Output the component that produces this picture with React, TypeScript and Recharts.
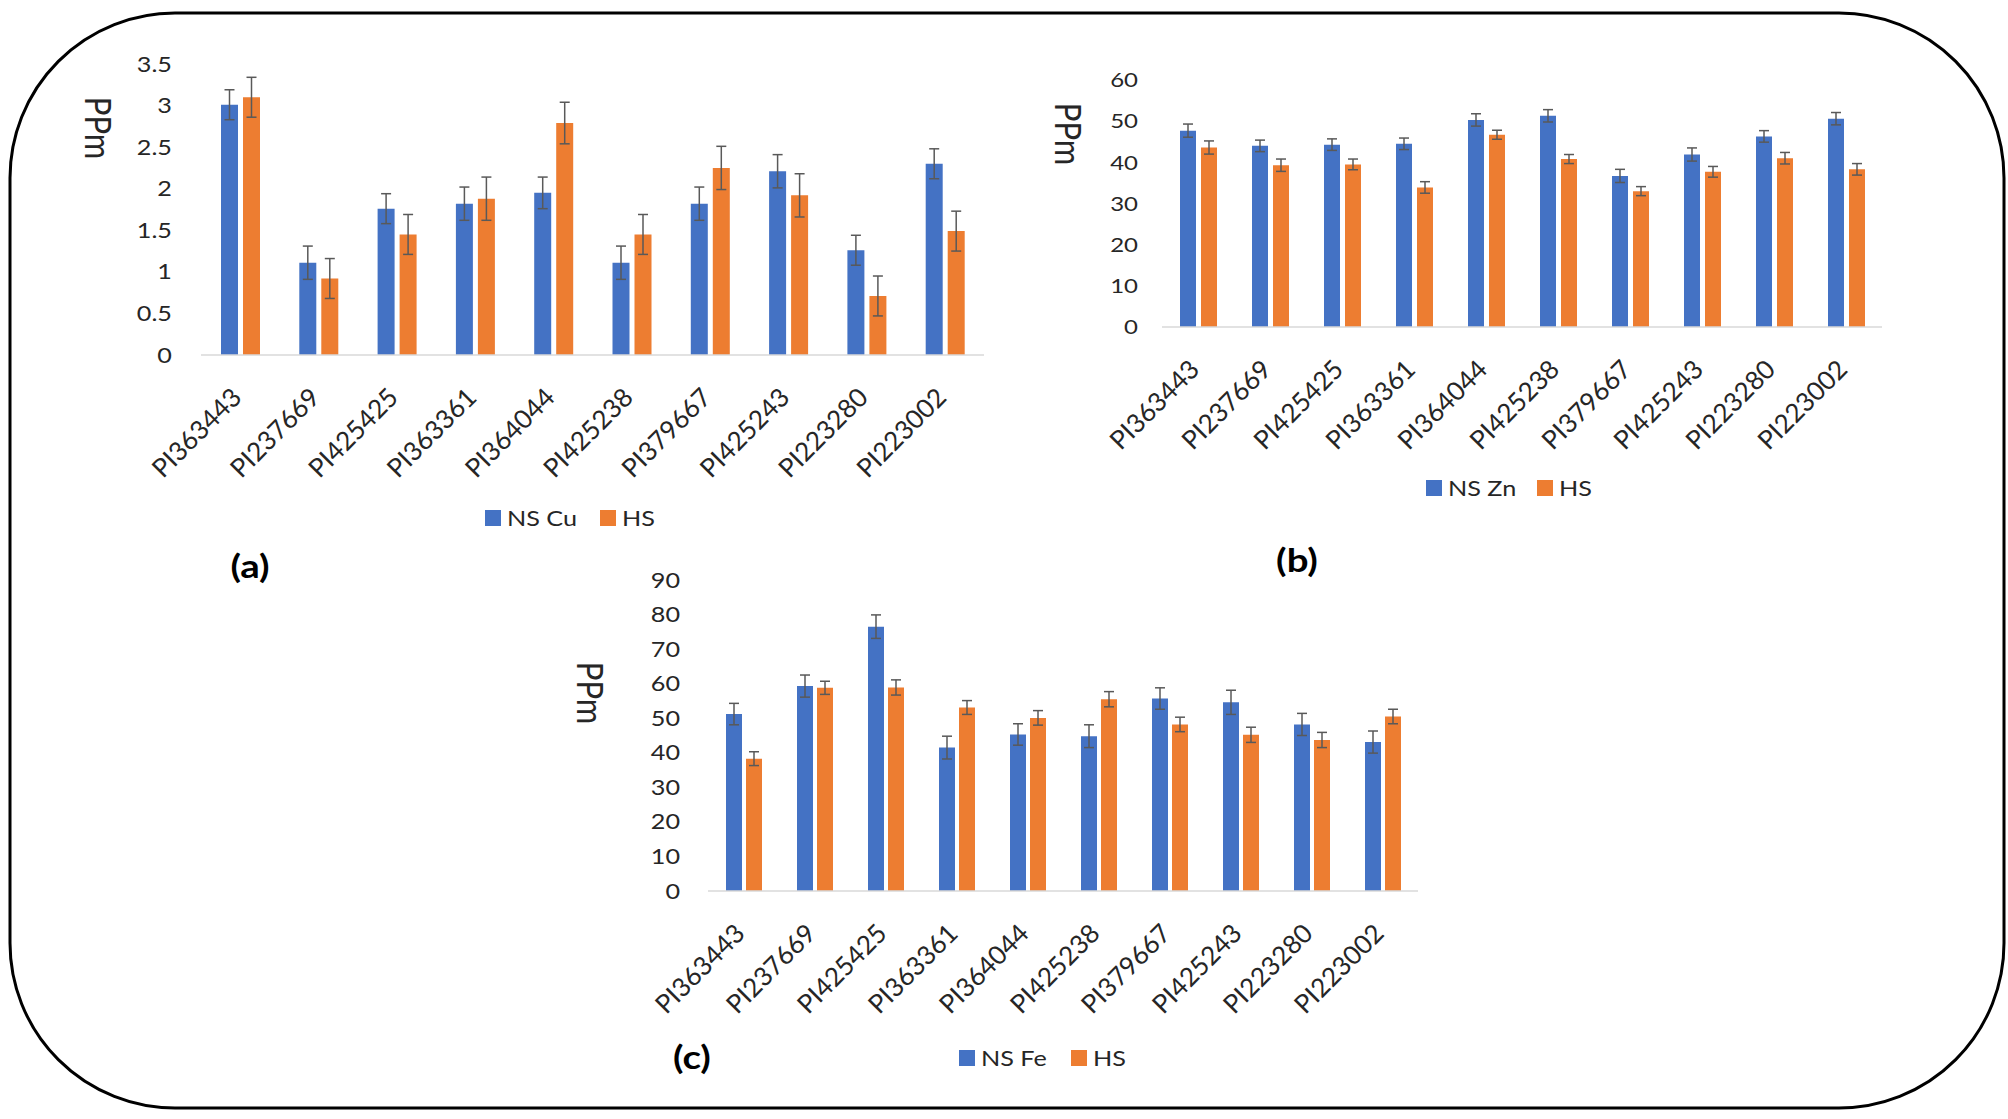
import { Bar, BarChart, ErrorBar, Legend, XAxis, YAxis } from "recharts";

const accessions = [
  "PI363443",
  "PI237669",
  "PI425425",
  "PI363361",
  "PI364044",
  "PI425238",
  "PI379667",
  "PI425243",
  "PI223280",
  "PI223002"
];

// (a) copper, ppm
const cuNs = [3.01, 1.11, 1.76, 1.82, 1.95, 1.11, 1.82, 2.21, 1.26, 2.3];
const cuNsErr = [0.18, 0.2, 0.18, 0.2, 0.19, 0.2, 0.2, 0.2, 0.18, 0.18];
const cuHs = [3.1, 0.92, 1.45, 1.88, 2.79, 1.45, 2.25, 1.92, 0.71, 1.49];
const cuHsErr = [0.24, 0.24, 0.24, 0.26, 0.25, 0.24, 0.26, 0.26, 0.24, 0.24];
const cuTicks = [0, 0.5, 1, 1.5, 2, 2.5, 3, 3.5];

// (b) zinc, ppm
const znNs = [47.7, 44.0, 44.3, 44.5, 50.3, 51.3, 36.7, 41.9, 46.3, 50.6];
const znNsErr = [1.6, 1.4, 1.4, 1.4, 1.5, 1.5, 1.6, 1.6, 1.4, 1.5];
const znHs = [43.6, 39.3, 39.5, 33.9, 46.7, 40.8, 33.0, 37.7, 41.0, 38.3];
const znHsErr = [1.6, 1.5, 1.3, 1.4, 1.1, 1.1, 1.1, 1.3, 1.4, 1.4];
const znTicks = [0, 10, 20, 30, 40, 50, 60];

// (c) iron, ppm
const feNs = [51.2, 59.3, 76.5, 41.5, 45.3, 44.8, 55.7, 54.6, 48.2, 43.1];
const feNsErr = [3.1, 3.2, 3.4, 3.3, 3.1, 3.3, 3.1, 3.5, 3.2, 3.2];
const feHs = [38.3, 58.8, 58.9, 53.1, 50.1, 55.5, 48.2, 45.2, 43.7, 50.5];
const feHsErr = [2.0, 1.9, 2.2, 2.0, 2.1, 2.2, 2.1, 2.2, 2.2, 2.1];
const feTicks = [0, 10, 20, 30, 40, 50, 60, 70, 80, 90];

const BLUE = "#4472C4";
const ORANGE = "#ED7D31";
const TEXT = "#262626";
const FONT = "Lato, 'Open Sans', sans-serif";
// text in the source picture is a bit wider than the font, stretch it
const SX = 1.2;

function YTick(props: any) {
  const { x, y, payload, fontSize } = props;
  const t = `translate(${x} ${y}) scale(${SX} 1) translate(${-x} ${-y})`;
  return (
    <text x={x} y={y} dy="0.36em" textAnchor="end" fontSize={fontSize} fill={TEXT} fontFamily={FONT} transform={t}>
      {payload.value}
    </text>
  );
}

function XTick(props: any) {
  const { x, y, payload } = props;
  const ax = x + 3;
  return (
    <text x={ax} y={y} textAnchor="end" fontSize={26} fill={TEXT} fontFamily={FONT} transform={`rotate(-45 ${ax} ${y})`}>
      {payload.value}
    </text>
  );
}

function PpmTitle({ cx, cy }: { cx: number; cy: number }) {
  const t = `translate(${cx} ${cy}) scale(${SX} 1) rotate(90) translate(${-cx} ${-cy})`;
  return (
    <text x={cx} y={cy} textAnchor="middle" dominantBaseline="central" fontSize={31} fill={TEXT} fontFamily={FONT} transform={t}>
      PPm
    </text>
  );
}

type PanelProps = {
  left: number;
  top: number;
  width: number;
  height: number;
  margin: { top: number; right: number; bottom: number; left: number };
  xAxisHeight: number;
  yTickGap: number;
  yFont: number;
  ticks: number[];
  ns: number[];
  nsErr: number[];
  hs: number[];
  hsErr: number[];
  nsName: string;
  barSize: number;
  barGap: number;
  title: { cx: number; cy: number };
  legendTop: number;
  legendX: [number, number];
};

function Panel(p: PanelProps) {
  const data = accessions.map((name, i) => ({
    name,
    ns: p.ns[i],
    nsErr: p.nsErr[i],
    hs: p.hs[i],
    hsErr: p.hsErr[i]
  }));
  const legendItems = [
    { label: p.nsName, color: BLUE, x: p.legendX[0] },
    { label: "HS", color: ORANGE, x: p.legendX[1] }
  ];
  return (
    <div style={{ position: "absolute", left: p.left, top: p.top }}>
      <BarChart
        width={p.width}
        height={p.height}
        data={data}
        margin={p.margin}
        barSize={p.barSize}
        barGap={p.barGap}
      >
        <XAxis
          dataKey="name"
          interval={0}
          height={p.xAxisHeight}
          axisLine={{ stroke: "#d9d9d9", strokeWidth: 1.5 }}
          tickLine={false}
          tickSize={0}
          tickMargin={44}
          tick={<XTick />}
        />
        <YAxis
          width={100}
          domain={[0, p.ticks[p.ticks.length - 1]]}
          ticks={p.ticks}
          interval={0}
          axisLine={false}
          tickLine={false}
          tickSize={0}
          tickMargin={p.yTickGap}
          tick={<YTick fontSize={p.yFont} />}
          label={<PpmTitle cx={p.title.cx} cy={p.title.cy} />}
        />
        <Legend
          verticalAlign="bottom"
          wrapperStyle={{ left: 0, top: p.legendTop, width: p.width, height: 30 }}
          content={() => (
            <div style={{ position: "relative", width: p.width, height: 30, fontFamily: FONT, fontSize: 21, color: TEXT }}>
              {legendItems.map((it) => (
                <div key={it.label}>
                  <span style={{ position: "absolute", left: it.x, top: 7, width: 16, height: 16, background: it.color }} />
                  <span
                    style={{
                      position: "absolute",
                      left: it.x + 22,
                      top: 0,
                      lineHeight: "30px",
                      whiteSpace: "nowrap",
                      transform: `scaleX(${SX})`,
                      transformOrigin: "left center"
                    }}
                  >
                    {it.label}
                  </span>
                </div>
              ))}
            </div>
          )}
        />
        <Bar dataKey="ns" name={p.nsName} fill={BLUE} isAnimationActive={false}>
          <ErrorBar dataKey="nsErr" width={5} stroke="#595959" strokeWidth={1.5} direction="y" />
        </Bar>
        <Bar dataKey="hs" name="HS" fill={ORANGE} isAnimationActive={false}>
          <ErrorBar dataKey="hsErr" width={5} stroke="#595959" strokeWidth={1.5} direction="y" />
        </Bar>
      </BarChart>
    </div>
  );
}

const panelLetters = [
  { text: "(a)", x: 250, y: 566 },
  { text: "(b)", x: 1297, y: 560 },
  { text: "(c)", x: 692, y: 1057 }
];

export default function App() {
  return (
    <div style={{ position: "absolute", left: 0, top: 0, width: 2008, height: 1119, background: "#fff", fontFamily: FONT }}>
      <Panel
        left={0}
        top={0}
        width={1004}
        height={545}
        margin={{ top: 64, right: 20, bottom: 12, left: 101 }}
        xAxisHeight={148}
        yTickGap={29}
        yFont={21}
        ticks={cuTicks}
        ns={cuNs}
        nsErr={cuNsErr}
        hs={cuHs}
        hsErr={cuHsErr}
        nsName="NS Cu"
        barSize={17}
        barGap={5}
        title={{ cx: 100, cy: 128 }}
        legendTop={503}
        legendX={[485, 600]}
      />
      <Panel
        left={1004}
        top={0}
        width={1000}
        height={515}
        margin={{ top: 80, right: 122, bottom: 12, left: 58 }}
        xAxisHeight={146}
        yTickGap={24}
        yFont={20}
        ticks={znTicks}
        ns={znNs}
        nsErr={znNsErr}
        hs={znHs}
        hsErr={znHsErr}
        nsName="NS Zn"
        barSize={16}
        barGap={5}
        title={{ cx: 66, cy: 134 }}
        legendTop={473}
        legendX={[422, 533]}
      />
      <Panel
        left={500}
        top={540}
        width={1000}
        height={560}
        margin={{ top: 40, right: 82, bottom: 27, left: 108 }}
        xAxisHeight={152}
        yTickGap={28}
        yFont={21}
        ticks={feTicks}
        ns={feNs}
        nsErr={feNsErr}
        hs={feHs}
        hsErr={feHsErr}
        nsName="NS Fe"
        barSize={16}
        barGap={4}
        title={{ cx: 92, cy: 153 }}
        legendTop={503}
        legendX={[459, 571]}
      />
      <svg width={2008} height={1119} style={{ position: "absolute", left: 0, top: 0, pointerEvents: "none" }}>
        <rect x={10} y={13} width={1994} height={1095} rx={165} ry={165} fill="none" stroke="#000" strokeWidth={3} />
        {panelLetters.map((l) => (
          <text
            key={l.text}
            x={l.x}
            y={l.y}
            textAnchor="middle"
            dominantBaseline="central"
            fontSize={32}
            fontWeight="bold"
            fill="#000"
            fontFamily={FONT}
            transform={`translate(${l.x} ${l.y}) scale(${SX} 1) translate(${-l.x} ${-l.y})`}
          >
            {l.text}
          </text>
        ))}
      </svg>
    </div>
  );
}
